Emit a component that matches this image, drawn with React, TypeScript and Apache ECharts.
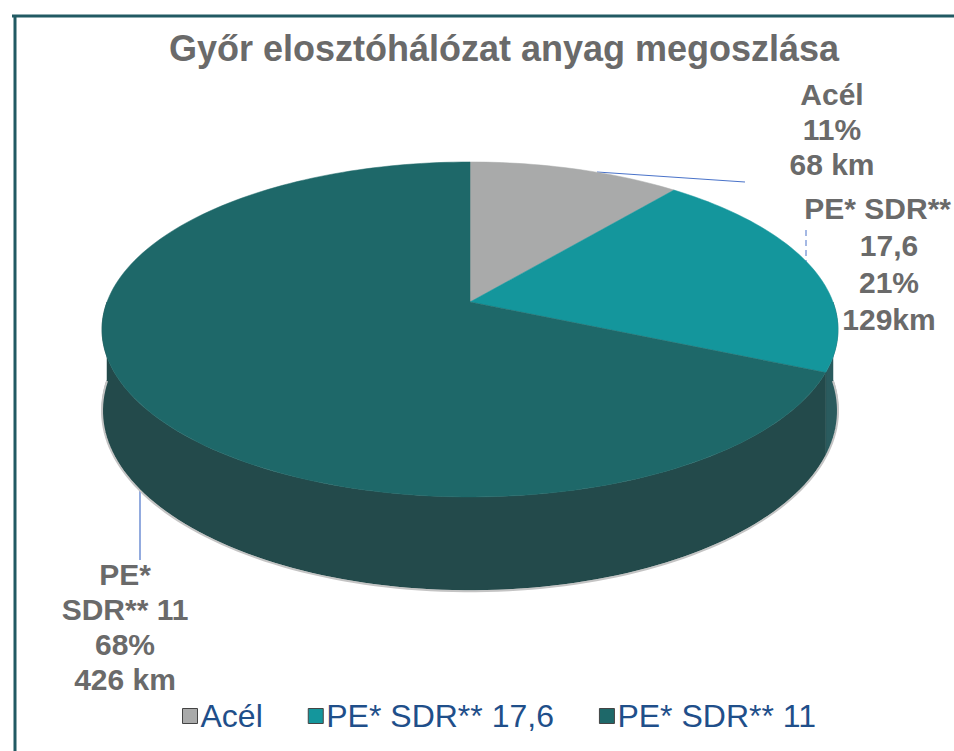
import React, { useEffect, useRef } from "react";
import * as echarts from "echarts";

const chartTitle = "Győr elosztóhálózat anyag megoszlása";
const categories = ["Acél", "PE* SDR** 17,6", "PE* SDR** 11"];
const lengthsKm = [68, 129, 426];
const labelHeads = ["Acél", "PE* SDR**", "PE*"];
const labelRests = ["", "17,6", "SDR** 11"];
const kmLabels = ["68 km", "129km", "426 km"];
const topColors = ["#a9aaaa", "#14969c", "#1e6869"];
const sideColors = ["#7f8080", "#2a5b5e", "#234a4b"];

export default function App() {
  const ref = useRef<HTMLDivElement>(null);
  useEffect(() => {
    if (!ref.current) return;
    const chart = echarts.init(ref.current, undefined, { renderer: "svg" });

    // tilted disc seen in perspective
    const CX = 470, CY = 302, R = 363, A = 163, K = 0.164, D = 78;
    const proj = (t: number) => {
      const u = Math.cos(t), v = Math.sin(t);
      const w = 1 - K * v;
      return [CX + (R * u) / w, CY + (A * v) / w, D / w];
    };

    const total = lengthsKm.reduce((a, b) => a + b, 0);
    const starts: number[] = [];
    const ends: number[] = [];
    let cum = 0;
    lengthsKm.forEach((v) => {
      starts.push(-Math.PI / 2 + (2 * Math.PI * cum) / total);
      cum += v;
      ends.push(-Math.PI / 2 + (2 * Math.PI * cum) / total);
    });
    const pct = lengthsKm.map((v) => Math.round((v / total) * 100) + "%");

    const arc = (a: number, b: number) => {
      const n = Math.max(8, Math.ceil(((b - a) / (2 * Math.PI)) * 240));
      const pts: number[][] = [];
      for (let k = 0; k <= n; k++) pts.push(proj(a + ((b - a) * k) / n));
      return pts;
    };

    const renderItem = (params: any) => {
      const i = params.seriesIndex;
      const a0 = starts[i], a1 = ends[i];
      const children: any[] = [];
      const lo = Math.max(a0, 0), hi = Math.min(a1, Math.PI);
      if (lo < hi) {
        const top = arc(lo, hi);
        const bot = top.map((p) => [p[0], p[1] + p[2]]);
        children.push({
          type: "polygon",
          shape: { points: top.map((p) => [p[0], p[1]]).concat(bot.slice().reverse()) },
          style: { fill: sideColors[i], stroke: sideColors[i], lineWidth: 0.5 },
          z2: 1,
        });
        children.push({
          type: "polyline",
          shape: { points: bot.map((p) => [p[0], p[1] + 1]) },
          style: { stroke: "#c4c4c4", lineWidth: 2, fill: "none" },
          z2: 2,
        });
      }
      const face = [[CX, CY]].concat(arc(a0, a1).map((p) => [p[0], p[1]]));
      children.push({
        type: "polygon",
        shape: { points: face },
        style: { fill: topColors[i], stroke: topColors[i], lineWidth: 0.5 },
        z2: 10,
      });
      return { type: "group", children };
    };

    const labelStyle = {
      fontSize: 30,
      fontWeight: "bold",
      fontFamily: "Liberation Sans, Arial, sans-serif",
      fill: "#6a6a6a",
      textAlign: "center",
      textVerticalAlign: "top",
    };
    const lines = (i: number) =>
      [labelHeads[i], labelRests[i], pct[i], kmLabels[i]].filter((s) => s !== "").join("\n");

    chart.setOption({
      animation: false,
      backgroundColor: "#ffffff",
      title: {
        text: chartTitle,
        left: 499,
        textAlign: "center",
        top: 25,
        textStyle: {
          fontSize: 36,
          fontWeight: "bold",
          color: "#6a6a6a",
          fontFamily: "Liberation Sans, Arial, sans-serif",
        },
      },
      legend: {
        left: 182,
        top: 700,
        padding: 0,
        itemWidth: 15,
        itemHeight: 15,
        itemGap: 45,
        icon: "rect",
        itemStyle: { borderColor: "#444", borderWidth: 1 },
        textStyle: {
          fontSize: 32,
          color: "#1f4f8a",
          fontFamily: "Liberation Sans, Arial, sans-serif",
          padding: [0, 0, 0, -2],
        },
        data: categories,
      },
      series: categories.map((name, i) => ({
        type: "custom",
        name,
        coordinateSystem: "none",
        itemStyle: { color: topColors[i] },
        data: [[lengthsKm[i]]],
        renderItem,
      })),
      graphic: [
        { type: "line", shape: { x1: 12, y1: 16, x2: 954, y2: 16 }, style: { stroke: "#215a63", lineWidth: 3 } },
        { type: "line", shape: { x1: 15, y1: 16, x2: 15, y2: 751 }, style: { stroke: "#215a63", lineWidth: 3 } },
        { type: "line", shape: { x1: 597, y1: 172, x2: 745, y2: 182 }, style: { stroke: "#4a73c9", lineWidth: 1.2 } },
        { type: "line", shape: { x1: 806, y1: 230, x2: 806, y2: 272 }, style: { stroke: "#4a73c9", lineWidth: 1, lineDash: [6, 4] } },
        { type: "line", shape: { x1: 140, y1: 485, x2: 140, y2: 560 }, style: { stroke: "#4a73c9", lineWidth: 1.2 } },
        { type: "text", x: 832, y: 77, style: { ...labelStyle, lineHeight: 35, text: lines(0) } },
        { type: "text", x: 951, y: 190, style: { ...labelStyle, textAlign: "right", lineHeight: 37, text: labelHeads[1] } },
        { type: "text", x: 889, y: 227, style: { ...labelStyle, lineHeight: 37, text: [labelRests[1], pct[1], kmLabels[1]].join("\n") } },
        { type: "text", x: 125, y: 557, style: { ...labelStyle, lineHeight: 35, text: lines(2) } },
      ],
    });
    return () => chart.dispose();
  }, []);
  return (
    <div
      ref={ref}
      style={{ position: "absolute", left: 0, top: 0, width: 954, height: 751, background: "#fff" }}
    />
  );
}
